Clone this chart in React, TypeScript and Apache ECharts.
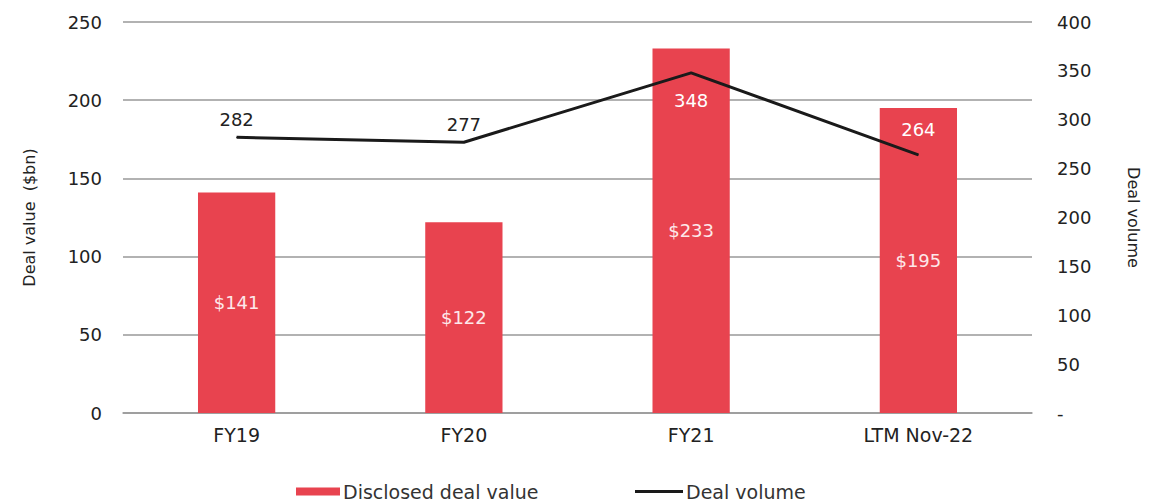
import React, { useEffect, useRef } from "react";
import * as echarts from "echarts";

const categories = ["FY19", "FY20", "FY21", "LTM Nov-22"];
const dealValue = [141, 122, 233, 195];
const dealVolume = [282, 277, 348, 264];
const volumeLabelPos = ["top", "top", "bottom", "top"];
const volumeLabelColor = ["#222", "#222", "#fff", "#fff"];
const volumeLabelDist = [8, 8, 18, 16];

export default function App() {
  const ref = useRef<HTMLDivElement>(null);
  useEffect(() => {
    const chart = echarts.init(ref.current!, null, { renderer: "svg" });
    const font = "'DejaVu Sans', 'Liberation Sans', Arial, sans-serif";
    chart.setOption({
      animation: false,
      textStyle: { fontFamily: font },
      grid: { left: 123, right: 121, top: 22, bottom: 91 },
      legend: [
        {
          left: 296,
          top: 482,
          padding: 0,
          itemWidth: 44,
          itemHeight: 8,
          data: [{ name: "Disclosed deal value", icon: "rect" }],
          textStyle: { fontSize: 19, color: "#333", fontFamily: font, padding: [0, 0, 0, -2] },
        },
        {
          left: 635,
          top: 482,
          padding: 0,
          itemWidth: 48,
          itemHeight: 3,
          data: [{ name: "Deal volume", icon: "rect" }],
          textStyle: { fontSize: 19, color: "#333", fontFamily: font, padding: [0, 0, 0, -2] },
        },
      ],
      xAxis: {
        type: "category",
        data: categories,
        axisTick: { show: false },
        axisLine: { show: true, lineStyle: { color: "#999", width: 1.5 } },
        axisLabel: { color: "#222", fontSize: 19, margin: 12 },
      },
      yAxis: [
        {
          type: "value",
          min: 0,
          max: 250,
          interval: 50,
          name: "Deal value  ($bn)",
          nameLocation: "middle",
          nameGap: 86,
          nameTextStyle: { color: "#222", fontSize: 16 },
          axisLabel: { color: "#222", fontSize: 18, margin: 21 },
          splitLine: { lineStyle: { color: "#999", width: 1.5 } },
          axisLine: { show: false },
          axisTick: { show: false },
        },
        {
          type: "value",
          min: 0,
          max: 400,
          interval: 50,
          position: "right",
          name: "Deal volume",
          nameLocation: "middle",
          nameRotate: -90,
          nameGap: 93,
          nameTextStyle: { color: "#222", fontSize: 16 },
          axisLabel: {
            color: "#222",
            fontSize: 18,
            margin: 25,
            formatter: (v: number) => (v === 0 ? "-" : String(v)),
          },
          splitLine: { show: false },
          axisLine: { show: false },
          axisTick: { show: false },
        },
      ],
      series: [
        {
          name: "Disclosed deal value",
          type: "bar",
          data: dealValue,
          barWidth: "34%",
          itemStyle: { color: "#E8434F" },
          label: {
            show: true,
            position: "inside",
            color: "#fde8ea",
            fontSize: 18,
            formatter: (p: any) => "$" + p.value,
          },
        },
        {
          name: "Deal volume",
          type: "line",
          yAxisIndex: 1,
          data: dealVolume.map((v, i) => ({
            value: v,
            label: {
              position: volumeLabelPos[i],
              color: volumeLabelColor[i],
              distance: volumeLabelDist[i],
            },
          })),
          showSymbol: true,
          symbol: "circle",
          symbolSize: 1,
          lineStyle: { color: "#1a1a1a", width: 3 },
          itemStyle: { color: "#1a1a1a" },
          label: { show: true, fontSize: 18 },
        },
      ],
    });
    return () => chart.dispose();
  }, []);
  return <div ref={ref} style={{ width: 1153, height: 504, position: "absolute", left: 0, top: 0 }} />;
}
